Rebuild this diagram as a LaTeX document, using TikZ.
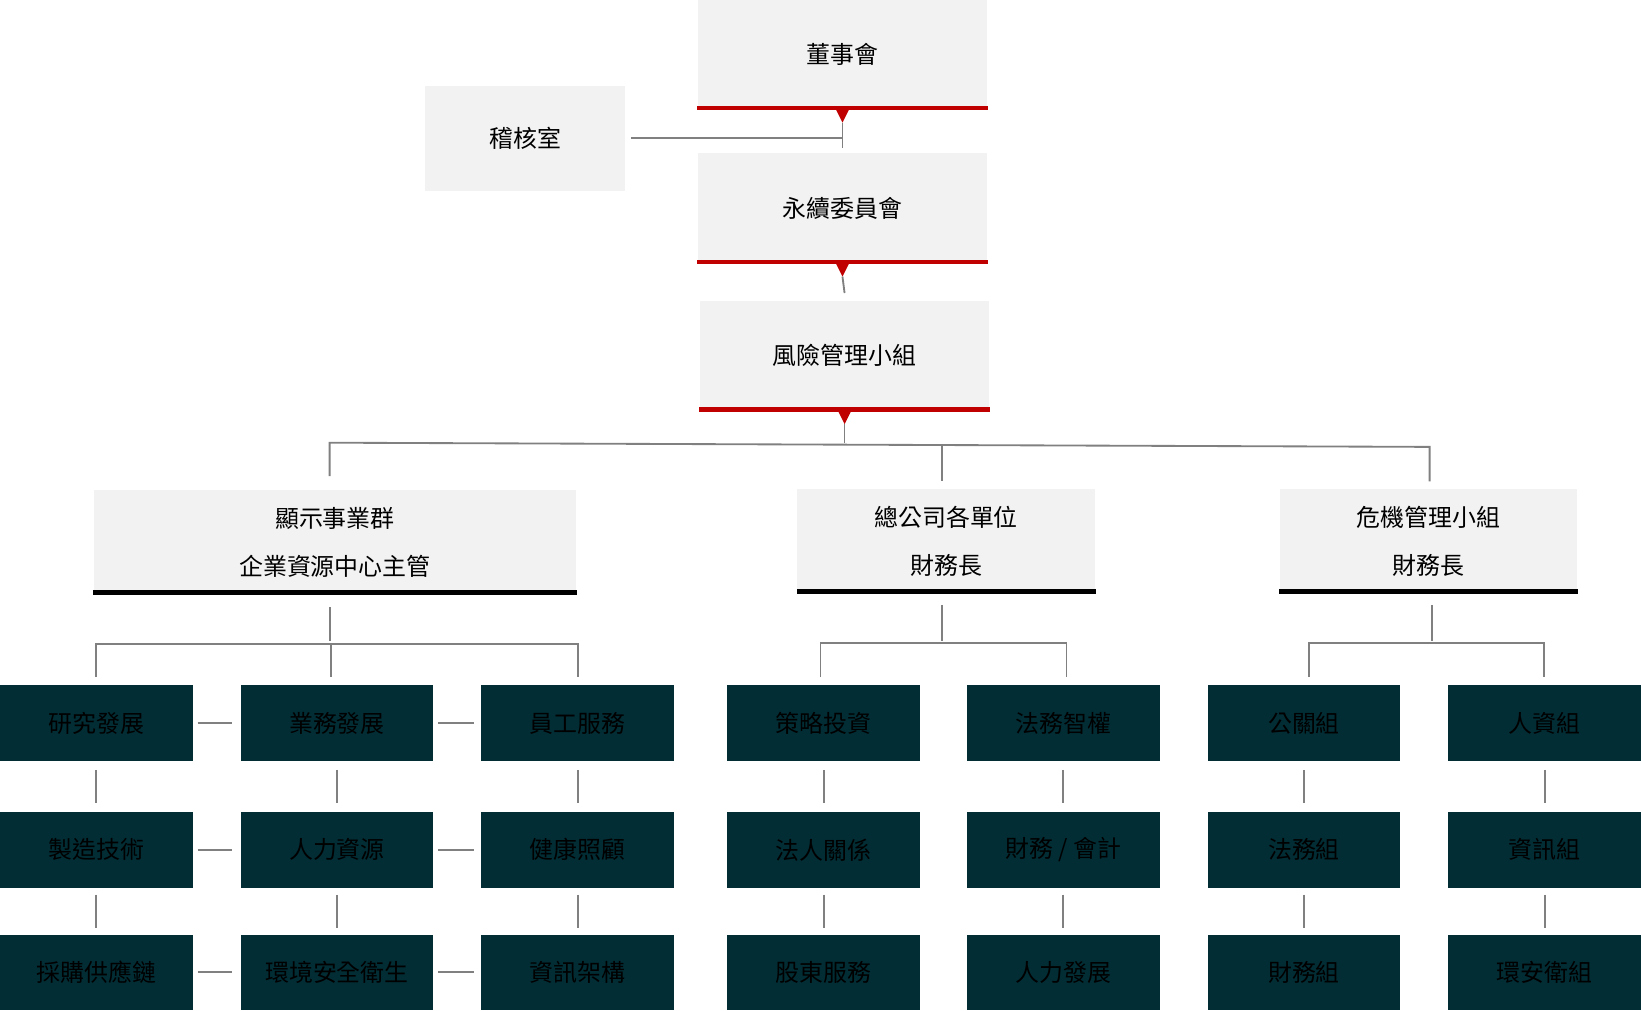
\documentclass[tikz,border=0pt]{standalone}
\usepackage{fontspec}
\setmainfont{Noto Sans CJK TC}
\usetikzlibrary{arrows.meta, positioning}
\definecolor{boxgray}{HTML}{F2F2F2}
\definecolor{teal}{HTML}{022D35}
\definecolor{barred}{HTML}{C00000}
\begin{document}
\begin{tikzpicture}[x=0.01cm, y=-0.01cm,
    every node/.style={inner sep=0pt, font=\fontsize{6.5}{10}\selectfont, align=center},
    topbox/.style={fill=boxgray, minimum width=2.76cm, minimum height=1.05cm},
    midbox/.style={fill=boxgray, minimum height=1.0cm},
    unit/.style={fill=teal, text=white, minimum width=1.84cm, minimum height=0.72cm},
    link/.style={draw=gray, line width=0.5pt},
  ]
  \useasboundingbox (0,0) rectangle (1568,966);
  % top of the chart
  \node[topbox] (board) at (805,52) {董事會};
  \node[fill=boxgray, minimum width=1.91cm, minimum height=1.0cm] (audit) at (502,132) {稽核室};
  \node[topbox] (esg) at (805,199) {永續委員會};
  \node[topbox] (risk) at (807,340) {風險管理小組};
  \foreach \n in {board,esg,risk}{
    \fill[barred] (\n.south west) rectangle ([yshift=0.04cm]\n.south east);
    \fill[barred] ([xshift=-0.06cm]\n.south) -- ([xshift=0.06cm]\n.south) -- ([yshift=-0.12cm]\n.south) -- cycle;
  }
  \coordinate (b1) at (805,141);
  \draw[link] ([yshift=-0.12cm]board.south) -- (b1);
  \draw[link] (603,132) -- (805,132);
  \draw[link] ([yshift=-0.12cm]esg.south) -- (807,280);
  % second level
  \node[midbox, minimum width=4.61cm] (display) at (320,518) {顯示事業群\\[3pt]企業資源中心主管};
  \node[midbox, minimum width=2.84cm] (hq) at (904,517) {總公司各單位\\[3pt]財務長};
  \node[midbox, minimum width=2.84cm] (crisis) at (1365,517) {危機管理小組\\[3pt]財務長};
  \foreach \n in {display,hq,crisis}
    \fill[black] (\n.south west) rectangle ([yshift=0.05cm]\n.south east);
  \draw[link] ([yshift=-0.12cm]risk.south) -- (807,423);
  \draw[link] (315,455) -- (315,423) -- (1366,427) -- (1366,460);
  \draw[link] (900,425) -- (900,460);
  % third level
  \foreach \x/\c in {92/a,322/b,552/c,787/d,1016/e,1246/f,1476/g}{
    \node[unit] (\c1) at (\x,691) {};
    \node[unit] (\c2) at (\x,812) {};
    \node[unit] (\c3) at (\x,929) {};
    \draw[link] ([yshift=-0.08cm]\c1.south) -- ([yshift=0.08cm]\c2.north);
    \draw[link] ([yshift=-0.06cm]\c2.south) -- ([yshift=0.06cm]\c3.north);
  }
  \node at (a1) {研究發展}; \node at (b1) {業務發展}; \node at (c1) {員工服務};
  \node at (a2) {製造技術}; \node at (b2) {人力資源}; \node at (c2) {健康照顧};
  \node at (a3) {採購供應鏈}; \node at (b3) {環境安全衛生}; \node at (c3) {資訊架構};
  \node at (d1) {策略投資}; \node at (e1) {法務智權};
  \node at (d2) {法人關係}; \node at (e2) {財務 / 會計};
  \node at (d3) {股東服務}; \node at (e3) {人力發展};
  \node at (f1) {公關組}; \node at (g1) {人資組};
  \node at (f2) {法務組}; \node at (g2) {資訊組};
  \node at (f3) {財務組}; \node at (g3) {環安衛組};
  \foreach \r in {1,2,3}{
    \draw[link] ([xshift=0.04cm]a\r.east) -- ([xshift=-0.08cm]b\r.west);
    \draw[link] ([xshift=0.04cm]b\r.east) -- ([xshift=-0.06cm]c\r.west);
  }
  \draw[link] (315,580) -- (315,612);
  \draw[link] (92,647) -- (92,615) -- (552,615) -- (552,647);
  \draw[link] (316,615) -- (316,647);
  \draw[link] (900,578) -- (900,612);
  \draw[link] (784,647) -- (784,614) -- (1019,614) -- (1019,647);
  \draw[link] (1368,578) -- (1368,612);
  \draw[link] (1251,647) -- (1251,614) -- (1475,614) -- (1475,647);
\end{tikzpicture}
\end{document}
